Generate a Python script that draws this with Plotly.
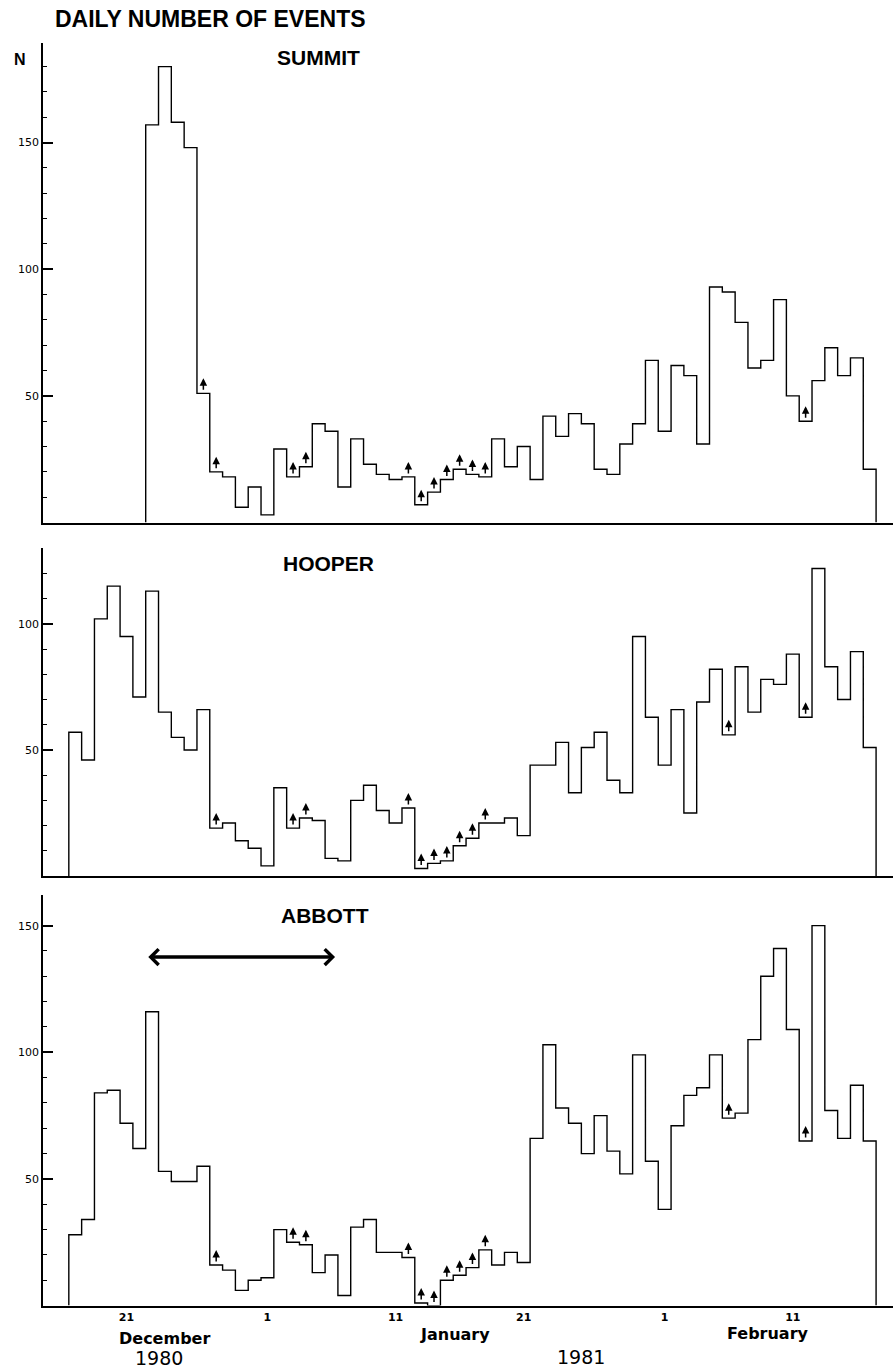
import pandas as pd
import plotly.graph_objects as go

# ---------------- data ----------------
summit_start = "1980-12-23"
summit_counts = [157, 180, 158, 148, 51, 20, 18, 6, 14,
                 3, 29, 18, 22, 39, 36, 14, 33, 23, 19, 17, 18, 7, 12, 17, 21, 19, 18,
                 33, 22, 30, 17, 42, 34, 43, 39, 21, 19, 31, 39, 64, 36,
                 62, 58, 31, 93, 91, 79, 61, 64, 88, 50, 40, 56, 69, 58, 65, 21]
summit_flags = ["1980-12-27", "1980-12-28", "1981-01-03", "1981-01-04",
                "1981-01-12", "1981-01-13", "1981-01-14", "1981-01-15",
                "1981-01-16", "1981-01-17", "1981-01-18", "1981-02-12"]

hooper_start = "1980-12-17"
hooper_counts = [57, 46, 102, 115, 95, 71, 113, 65, 55, 50, 66, 19, 21, 14, 11,
                 4, 35, 19, 23, 22, 7, 6, 30, 36, 26, 21, 27, 3, 5, 6, 12, 15, 21, 21, 23,
                 16, 44, 44, 53, 33, 51, 57, 38, 33, 95, 63,
                 44, 66, 25, 69, 82, 56, 83, 65, 78, 76, 88, 63, 122, 83, 70, 89, 51]
hooper_flags = ["1980-12-28", "1981-01-03", "1981-01-04",
                "1981-01-12", "1981-01-13", "1981-01-14", "1981-01-15",
                "1981-01-16", "1981-01-17", "1981-01-18", "1981-02-06", "1981-02-12"]

abbott_start = "1980-12-17"
abbott_counts = [28, 34, 84, 85, 72, 62, 116, 53, 49, 49, 55, 16, 14, 6, 10,
                 11, 30, 25, 24, 13, 20, 4, 31, 34, 21, 21, 19, 1, 0, 10, 12, 15, 22, 16, 21,
                 17, 66, 103, 78, 72, 60, 75, 61, 52, 99, 57,
                 38, 71, 83, 86, 99, 74, 76, 105, 130, 141, 109, 65, 150, 77, 66, 87, 65]
abbott_flags = ["1980-12-28", "1981-01-03", "1981-01-04",
                "1981-01-12", "1981-01-13", "1981-01-14", "1981-01-15",
                "1981-01-16", "1981-01-17", "1981-01-18", "1981-02-06", "1981-02-12"]

# period marked by the double arrow on the ABBOTT panel
abbott_period = ["1980-12-23 02:00", "1981-01-06 18:40"]
abbott_period_level = 137.6

tick_days = ["1980-12-21 12:00", "1981-01-01 12:00", "1981-01-11 12:00",
             "1981-01-21 12:00", "1981-02-01 12:00", "1981-02-11 12:00"]
tick_text = ["21", "1", "11", "21", "1", "11"]

stations = ["SUMMIT", "HOOPER", "ABBOTT"]
major_ticks = [[50, 100, 150], [50, 100], [50, 100, 150]]
minor_ticks = [[v for v in range(10, 190, 10) if v % 50],
               [v for v in range(10, 130, 10) if v % 50],
               [v for v in range(10, 150, 10) if v % 50]]

# ---------------- layout geometry ----------------
W, H = 893, 1371
L, R = 43, 0
x_range = ["1980-12-14 23:38", "1981-02-19 07:41"]
# (top px, bottom px, y max) per panel
panels = [(43.3, 522.5, 189.2), (548.3, 876.0, 130.0), (895.0, 1305.6, 162.1)]


def px_x(px):
    return (px - L) / (W - L - R)


def px_y(py):
    return (H - py) / H


def step_xy(start, counts):
    days = pd.date_range(start, periods=len(counts), freq="D")
    end = days[-1] + pd.Timedelta(days=1)
    xs = [days[0]] + list(days) + [end, end]
    ys = [0] + list(counts) + [counts[-1], 0]
    return xs, ys


fig = go.Figure()
series = [(summit_start, summit_counts, summit_flags),
          (hooper_start, hooper_counts, hooper_flags),
          (abbott_start, abbott_counts, abbott_flags)]

annotations = []
for i, (start, counts, flags) in enumerate(series):
    k = "" if i == 0 else str(i + 1)
    xs, ys = step_xy(start, counts)
    fig.add_trace(go.Scatter(x=xs, y=ys, mode="lines", line=dict(color="black", width=1.4, shape="hv"),
                             xaxis="x" + k, yaxis="y" + k, hoverinfo="skip", showlegend=False))
    days = pd.date_range(start, periods=len(counts), freq="D")
    lookup = dict(zip(days.strftime("%Y-%m-%d"), counts))
    for f in flags:
        annotations.append(dict(x=pd.Timestamp(f) + pd.Timedelta(hours=12), y=lookup[f],
                                xref="x" + k, yref="y" + k, text="", showarrow=True,
                                ax=0, ay=13, yshift=15, arrowhead=2, arrowsize=1.0,
                                arrowwidth=1.5, arrowcolor="black", standoff=0))

# double arrow on ABBOTT
annotations.append(dict(x=abbott_period[1], y=abbott_period_level, xref="x3", yref="y3",
                        ax=abbott_period[0], ay=abbott_period_level, axref="x3", ayref="y3",
                        text="", showarrow=True, arrowside="end+start", arrowhead=4,
                        arrowsize=0.9, arrowwidth=3.4, arrowcolor="black", standoff=0))


def label(text, x, y, size, family="Liberation Sans, Arial, sans-serif", weight="bold"):
    annotations.append(dict(text=text, x=px_x(x), y=px_y(y), xref="paper", yref="paper",
                            xanchor="center", yanchor="middle", showarrow=False, borderpad=0,
                            font=dict(family=family, size=size, color="black", weight=weight)))


label("DAILY NUMBER OF EVENTS", 210, 18.5, 23)
label("N", 19.7, 59, 16)
label("SUMMIT", 318, 58, 21)
label("HOOPER", 328, 563.5, 21)
label("ABBOTT", 325, 915.5, 21)
label("December", 164.5, 1338, 16, family="DejaVu Sans")
label("January", 455.3, 1334, 16, family="DejaVu Sans")
label("February", 767.5, 1333.5, 16, family="DejaVu Sans")
label("1980", 158.5, 1357.5, 19, family="DejaVu Sans", weight="normal")
label("1981", 581, 1356.5, 19, family="DejaVu Sans", weight="normal")

layout = dict(width=W, height=H, margin=dict(l=L, r=R, t=0, b=0, pad=0),
              paper_bgcolor="white", plot_bgcolor="white", showlegend=False,
              annotations=annotations)

for i, (top, bottom, ymax) in enumerate(panels):
    k = "" if i == 0 else str(i + 1)
    dom = [px_y(bottom), px_y(top)]
    layout["xaxis" + k] = dict(type="date", range=x_range, domain=[0, 1], anchor="y" + k,
                               showline=True, linecolor="black", linewidth=1.5,
                               showgrid=False, zeroline=False, ticks="",
                               tickmode="array", tickvals=tick_days, ticktext=tick_text,
                               showticklabels=(i == 2), automargin=False,
                               tickfont=dict(family="DejaVu Sans", size=11, color="black", weight="bold"))
    layout["yaxis" + k] = dict(range=[0, ymax], domain=dom, anchor="x" + k,
                               showline=True, linecolor="black", linewidth=1.6,
                               showgrid=False, zeroline=False,
                               tickmode="array", tickvals=major_ticks[i],
                               ticktext=[str(v) for v in major_ticks[i]],
                               ticks="inside", ticklen=10, tickwidth=1.5, tickcolor="black",
                               minor=dict(tickmode="array", tickvals=minor_ticks[i], ticks="inside",
                                          ticklen=4, tickwidth=1.2, tickcolor="black", showgrid=False),
                               automargin=False,
                               tickfont=dict(family="DejaVu Sans", size=11, color="black"))
    j = str(i + 4)
    layout["yaxis" + j] = dict(range=[0, ymax], overlaying="y" + k, side="right", anchor="x" + k,
                               showline=False, showgrid=False, zeroline=False,
                               tickmode="array", tickvals=major_ticks[i], ticks="inside",
                               ticklen=5, tickwidth=1.5, tickcolor="black",
                               showticklabels=False, automargin=False)

fig.update_layout(**layout)
fig.write_html("out.html", config={"displayModeBar": False},
               post_script="document.body.style.margin='0';document.body.style.overflow='hidden';")
